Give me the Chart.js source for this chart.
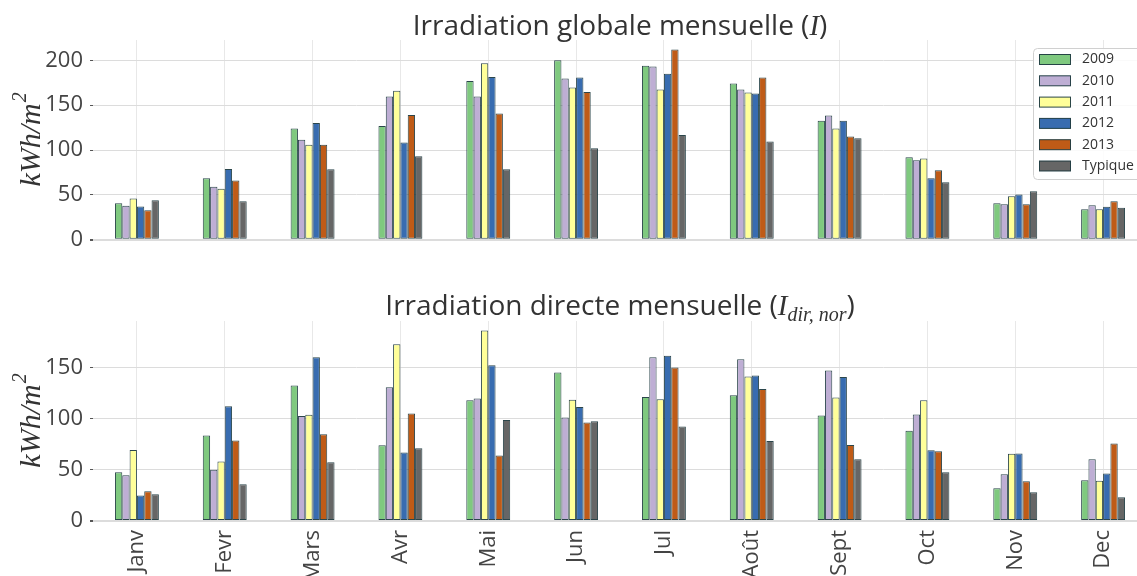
<!DOCTYPE html>
<html>
<head>
<meta charset="utf-8">
<script src="https://cdn.jsdelivr.net/npm/chart.js@4/dist/chart.umd.min.js"></script>
<style>
    html, body { margin: 0; padding: 0; background: #fff; overflow: hidden; width: 1137px; height: 576px; position: relative; }
    .box { position: absolute; left: 0; }
    #boxTop { top: 0; width: 1160px; height: 260px; }
    #boxBottom { top: 280px; width: 1160px; height: 330px; }
</style>
</head>
<body>
<div class="box" id="boxTop"><canvas id="chartTop"></canvas></div>
<div class="box" id="boxBottom"><canvas id="chartBottom"></canvas></div>
<script>
// categories and series
const months = ['Janv', 'Fevr', 'Mars', 'Avr', 'Mai', 'Jun', 'Jul', 'Août', 'Sept', 'Oct', 'Nov', 'Dec'];
const seriesNames = ['2009', '2010', '2011', '2012', '2013', 'Typique'];
const seriesColors = ['#7fc97f', '#beaed4', '#ffff99', '#386cb0', '#bf5b17', '#666666'];

// global irradiation (kWh/m2)
const global2009 = [40.7, 68.5, 124, 126.7, 177, 200, 194, 174, 132.6, 91.9, 40.7, 34];
const global2010 = [38, 59, 111.5, 159.6, 159.6, 179.6, 193, 167.4, 138.5, 88.5, 39.6, 38.5];
const global2011 = [46, 57, 106, 166, 196.7, 169.6, 167.4, 164, 124, 90.7, 48.5, 34];
const global2012 = [37, 79, 130, 108.5, 181.5, 180.7, 185, 163, 132.6, 68.5, 50.4, 36.7];
const global2013 = [33, 66, 106, 139, 140.7, 164.8, 211.9, 180.7, 115, 77.4, 39.6, 43];
const globalTyp = [44, 43, 78.5, 93, 78.5, 101.9, 116.7, 109.6, 113, 64, 54, 35.6];

// direct normal irradiation (kWh/m2)
const direct2009 = [47.5, 83.6, 132.4, 73.9, 117.8, 145, 121, 122.7, 103, 88.2, 31.9, 39.7];
const direct2010 = [44.6, 50, 102.5, 130.5, 119.7, 101, 159.8, 158, 147, 104, 45.6, 60.2];
const direct2011 = [69.3, 58.2, 103.8, 172.5, 186, 118.4, 119, 141, 120.7, 117.8, 65.7, 39.4];
const direct2012 = [25, 112, 159.8, 67, 152, 111.3, 161.4, 142.2, 140.6, 69, 66, 46.5];
const direct2013 = [29, 78.7, 84.6, 105, 64, 96.3, 150, 128.9, 74.2, 68, 38.7, 75.8];
const directTyp = [26, 36, 57.3, 71, 98.6, 97.3, 92.4, 78.1, 60.2, 47.5, 28, 23.1];

// tick labels
const yTicksTop = [0, 50, 100, 150, 200];
const yTicksBottom = [0, 50, 100, 150];

const SANS = '"Open Sans", "Noto Sans", sans-serif';
const SERIF = '"Liberation Serif", "DejaVu Serif", serif';
const EDGE = 'rgba(20, 50, 55, 0.9)';

// title with a bit of math-like italic
const mathTitle = {
    id: 'mathTitle',
    afterDraw(chart, args, opts) {
        if (!opts.parts) return;
        const ctx = chart.ctx;
        ctx.save();
        ctx.fillStyle = '#333';
        ctx.textBaseline = 'alphabetic';
        let total = 0;
        opts.parts.forEach(p => { ctx.font = p.font; total += ctx.measureText(p.text).width; });
        let x = (chart.chartArea.left + chart.chartArea.right) / 2 - total / 2;
        opts.parts.forEach(p => {
            ctx.font = p.font;
            ctx.fillText(p.text, x, opts.y + (p.dy || 0));
            x += ctx.measureText(p.text).width;
        });
        ctx.restore();
    }
};

// rotated y label kWh/m^2
const yLabel = {
    id: 'yLabel',
    afterDraw(chart, args, opts) {
        const ctx = chart.ctx;
        const cy = (chart.chartArea.top + chart.chartArea.bottom) / 2;
        ctx.save();
        ctx.translate(opts.x, cy);
        ctx.rotate(-Math.PI / 2);
        ctx.fillStyle = '#333';
        ctx.textBaseline = 'alphabetic';
        ctx.font = 'italic 30px ' + SERIF;
        const w1 = ctx.measureText('kWh/m').width;
        ctx.font = 'italic 20px ' + SERIF;
        const w2 = ctx.measureText('2').width;
        const x0 = -(w1 + w2) / 2;
        ctx.font = 'italic 30px ' + SERIF;
        ctx.fillText('kWh/m', x0, 10);
        ctx.font = 'italic 20px ' + SERIF;
        ctx.fillText('2', x0 + w1 + 1, -4);
        ctx.restore();
    }
};

// legend box inside the top axes
const boxLegend = {
    id: 'boxLegend',
    afterDraw(chart, args, opts) {
        if (!opts.show) return;
        const ctx = chart.ctx;
        ctx.save();
        const left = 1033, top = 48, bottom = 179, right = chart.width + 10;
        ctx.fillStyle = 'rgba(255,255,255,0.85)';
        ctx.strokeStyle = '#d0d0d0';
        ctx.lineWidth = 1;
        ctx.beginPath();
        ctx.roundRect(left + 0.5, top + 0.5, right - left, bottom - top, 4);
        ctx.fill();
        ctx.stroke();
        ctx.font = '14px ' + SANS;
        ctx.textBaseline = 'middle';
        chart.data.datasets.forEach((ds, i) => {
            const cy = 59.5 + i * 21.3;
            ctx.fillStyle = ds.backgroundColor;
            ctx.fillRect(1039.5, cy - 5, 31, 10);
            ctx.strokeStyle = EDGE;
            ctx.strokeRect(1039.5, cy - 5, 31, 10);
            ctx.fillStyle = '#333';
            ctx.fillText(ds.label, 1082, cy);
        });
        ctx.restore();
    }
};

function makeDatasets(list) {
    return list.map((values, i) => ({
        label: seriesNames[i],
        data: values,
        backgroundColor: seriesColors[i],
        borderColor: EDGE,
        borderWidth: 1,
        borderSkipped: false,
        categoryPercentage: 0.5,
        barPercentage: 1.0
    }));
}

function makeChart(id, datasets, yMax, yTicks, showLabels, padding, xHeight, titleParts, titleY, legend) {
    return new Chart(document.querySelector('#' + id), {
        type: 'bar',
        data: { labels: months, datasets },
        plugins: [mathTitle, yLabel, boxLegend],
        options: {
            responsive: true,
            maintainAspectRatio: false,
            animation: false,
            layout: { padding },
            plugins: {
                legend: { display: false },
                title: { display: false },
                tooltip: { enabled: false },
                mathTitle: { parts: titleParts, y: titleY },
                yLabel: { x: 30 },
                boxLegend: { show: legend }
            },
            scales: {
                x: {
                    offset: true,
                    grid: { offset: false, color: '#e8e8e8', lineWidth: 1, drawTicks: false },
                    border: { display: false },
                    ticks: {
                        display: showLabels,
                        autoSkip: false,
                        minRotation: 90,
                        maxRotation: 90,
                        padding: 9,
                        color: '#444',
                        font: { family: SANS, size: 22 }
                    },
                    afterFit(scale) { scale.height = xHeight; }
                },
                y: {
                    min: 0,
                    max: yMax,
                    grid: {
                        color: '#dcdcdc',
                        lineWidth: c => (c.tick && c.tick.value === 0 ? 2 : 1),
                        tickLength: 3,
                        tickColor: '#555'
                    },
                    border: { display: false },
                    ticks: { padding: 7, color: '#444', font: { family: SANS, size: 22 } },
                    afterBuildTicks(scale) { scale.ticks = yTicks.map(v => ({ value: v })); },
                    afterFit(scale) { scale.width = 93; }
                }
            }
        }
    });
}

makeChart('chartTop',
    makeDatasets([global2009, global2010, global2011, global2012, global2013, globalTyp]),
    222.6, yTicksTop, false,
    { left: 0, right: 13, top: 40, bottom: 19 }, 0,
    [
        { text: 'Irradiation globale mensuelle (', font: '28px ' + SANS },
        { text: 'I', font: 'italic 29px ' + SERIF },
        { text: ')', font: '28px ' + SANS }
    ], 35, true);

makeChart('chartBottom',
    makeDatasets([direct2009, direct2010, direct2011, direct2012, direct2013, directTyp]),
    195.3, yTicksBottom, true,
    { left: 0, right: 13, top: 41, bottom: 0 }, 89,
    [
        { text: 'Irradiation directe mensuelle (', font: '28px ' + SANS },
        { text: 'I', font: 'italic 29px ' + SERIF },
        { text: 'dir, nor', font: 'italic 20px ' + SERIF, dy: 6 },
        { text: ')', font: '28px ' + SANS }
    ], 35, false);
</script>
</body>
</html>
